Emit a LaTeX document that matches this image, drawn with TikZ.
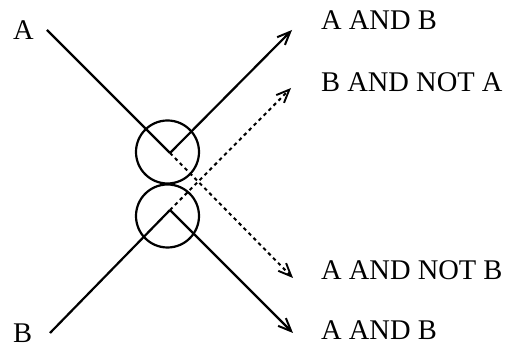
\documentclass[tikz,border=0pt]{standalone}
\usepackage{fontspec}
\setmainfont{Liberation Serif}
\usetikzlibrary{arrows.meta}
\begin{document}
\begin{tikzpicture}[x=1pt,y=1pt,
  lbl/.style={anchor=base west,inner sep=0pt,font=\fontsize{28.5}{33}\selectfont},
  wire/.style={line width=2.2pt},
  arr/.style={wire,-{Straight Barb[length=13pt,width=11pt,line width=2pt]}},
  darr/.style={line width=2pt,dash pattern=on 3.5pt off 3.5pt,-{Straight Barb[length=13pt,width=11pt,line width=1.9pt]}},
  ring/.style={circle,draw,line width=2.2pt,minimum size=63pt,inner sep=0pt}]
\useasboundingbox (0,0) rectangle (506,350);
% labels
\node[lbl] (la) at (13,310) {A};
\node[lbl] (lb) at (13,7.5) {B};
\node[lbl] (o1) at (321,320) {A AND B};
\node[lbl] (o2) at (321,258) {B AND NOT A};
\node[lbl] (o3) at (321,70) {A AND NOT B};
\node[lbl] (o4) at (321,10) {A AND B};
% circles
\node[ring] (c1) at (167.5,198) {};
\node[ring] (c2) at (167.5,134) {};
% coordinates
\coordinate (sa) at (47,320);
\coordinate (sb) at (50,17);
\coordinate (va) at (170,197);
\coordinate (vb) at (170,140);
\coordinate (t1) at (292,320);
\coordinate (t2) at (291,262);
\coordinate (t3) at (293,72);
\coordinate (t4) at (293,17);
% connectors
\draw[wire] (sa) -- (va);
\draw[arr] (va) -- (t1);
\draw[darr] (va) -- (t3);
\draw[wire] (sb) -- (vb);
\draw[arr] (vb) -- (t4);
\draw[darr] (vb) -- (t2);
\end{tikzpicture}
\end{document}
